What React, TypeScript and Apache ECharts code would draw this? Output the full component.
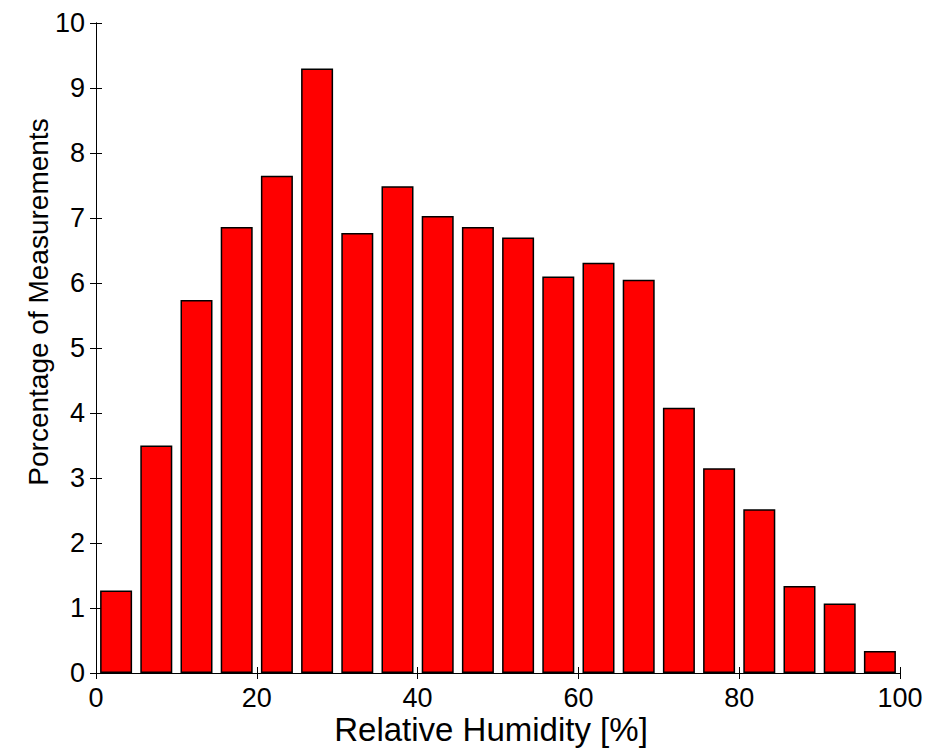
import React, { useEffect, useRef } from "react";
import * as echarts from "echarts";

const binCenters = [2.5, 7.5, 12.5, 17.5, 22.5, 27.5, 32.5, 37.5, 42.5, 47.5, 52.5, 57.5, 62.5, 67.5, 72.5, 77.5, 82.5, 87.5, 92.5, 97.5];
const percentages = [1.27, 3.5, 5.74, 6.86, 7.65, 9.3, 6.77, 7.49, 7.03, 6.86, 6.7, 6.1, 6.31, 6.05, 4.08, 3.15, 2.52, 1.34, 1.07, 0.34];
const xTicks = [0, 20, 40, 60, 80, 100];
const yTicks = [0, 1, 2, 3, 4, 5, 6, 7, 8, 9, 10];
const xTitle = "Relative Humidity [%]";
const yTitle = "Porcentage of Measurements";

const FONT = "'Liberation Sans', Arial, Helvetica, sans-serif";

export default function App() {
  const ref = useRef<HTMLDivElement>(null);
  useEffect(() => {
    if (!ref.current) return;
    const chart = echarts.init(ref.current, undefined, { renderer: "svg" });
    const axisLine = { show: true, lineStyle: { color: "#000", width: 1 } };
    const tick = { show: true, inside: true, length: 6, lineStyle: { color: "#000", width: 1 } };
    const label = { color: "#000", fontSize: 27, fontFamily: FONT };
    chart.setOption({
      animation: false,
      backgroundColor: "#fff",
      grid: { left: 96, right: 26, top: 23, bottom: 77, containLabel: false },
      xAxis: [
        {
          type: "value",
          min: xTicks[0],
          max: xTicks[xTicks.length - 1],
          interval: 20,
          position: "bottom",
          axisLine,
          axisTick: tick,
          axisLabel: { ...label, margin: 11 },
          splitLine: { show: false },
        },
        {
          type: "value",
          min: xTicks[0],
          max: xTicks[xTicks.length - 1],
          interval: 20,
          position: "top",
          axisLine,
          axisTick: tick,
          axisLabel: { show: false },
          splitLine: { show: false },
        },
      ],
      yAxis: [
        {
          type: "value",
          min: yTicks[0],
          max: yTicks[yTicks.length - 1],
          interval: 1,
          position: "left",
          axisLine,
          axisTick: tick,
          axisLabel: { ...label, margin: 11 },
          splitLine: { show: false },
        },
        {
          type: "value",
          min: yTicks[0],
          max: yTicks[yTicks.length - 1],
          interval: 1,
          position: "right",
          axisLine,
          axisTick: tick,
          axisLabel: { show: false },
          splitLine: { show: false },
        },
      ],
      series: [
        {
          type: "bar",
          xAxisIndex: 0,
          yAxisIndex: 0,
          barWidth: 32,
          data: binCenters.map((c, i) => [c, percentages[i]]),
          itemStyle: { color: "#ff0000", borderColor: "#000", borderWidth: 1.5 },
        },
      ],
      graphic: [
        {
          type: "text",
          x: 491,
          y: 729,
          style: {
            text: xTitle,
            fill: "#000",
            fontSize: 33,
            fontFamily: FONT,
            align: "center",
            verticalAlign: "middle",
          },
        },
        {
          type: "text",
          x: 38,
          y: 302,
          rotation: Math.PI / 2,
          style: {
            text: yTitle,
            fill: "#000",
            fontSize: 28,
            fontFamily: FONT,
            align: "center",
            verticalAlign: "middle",
          },
        },
      ],
    });
    return () => chart.dispose();
  }, []);
  return (
    <div
      ref={ref}
      style={{ position: "fixed", left: 0, top: 0, width: 926, height: 750 }}
    />
  );
}
